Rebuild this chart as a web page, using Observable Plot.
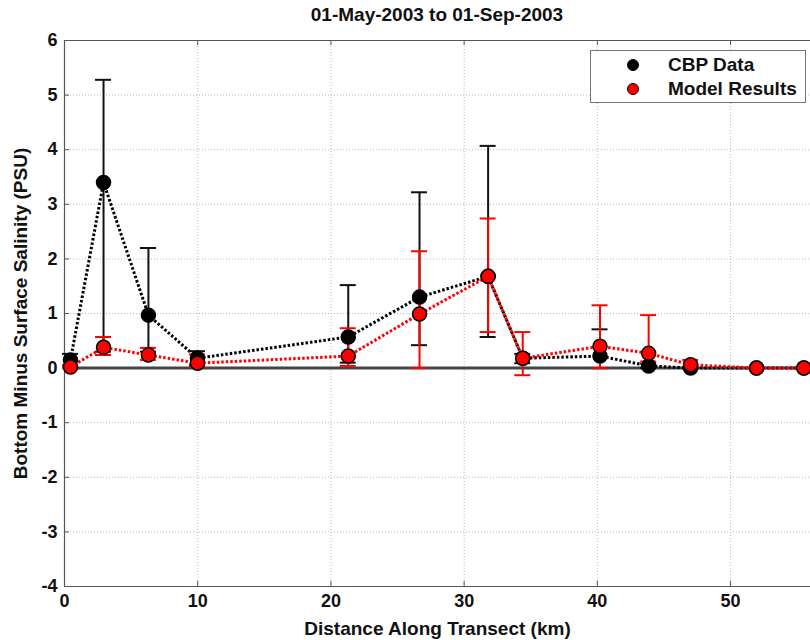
<!DOCTYPE html>
<html>
<head>
<meta charset="utf-8">
<script src="https://cdn.jsdelivr.net/npm/d3@7"></script>
<script src="https://cdn.jsdelivr.net/npm/@observablehq/plot@0.6"></script>
<style>
  html, body { margin: 0; padding: 0; background: #fff; }
  #wrap { position: relative; width: 810px; height: 640px; overflow: hidden; font-family: "Liberation Sans", Arial, sans-serif; }
  #title { position: absolute; left: 64px; width: 746px; top: 0; height: 30px; line-height: 30px; text-align: center; font-weight: bold; font-size: 19px; color: #111; }
  #chart { position: absolute; left: 0; top: 30px; }
  #legend { position: absolute; left: 590px; top: 50px; width: 216px; height: 53px; border: 1px solid #777; background: #fff; box-sizing: border-box; font-weight: bold; font-size: 19px; color: #111; }
  .row { position: absolute; left: 0; height: 22px; line-height: 22px; }
  .sw { position: absolute; left: 36px; top: 5px; width: 12px; height: 12px; border-radius: 50%; border: 1px solid #000; box-sizing: border-box; }
  .lab { position: absolute; left: 77px; white-space: nowrap; }
</style>
</head>
<body>
<div id="wrap">
  <div id="title">01-May-2003 to 01-Sep-2003</div>
  <div id="chart"></div>
  <div id="legend">
    <div class="row" style="top:3px"><span class="sw" style="background:#000"></span><span class="lab">CBP Data</span></div>
    <div class="row" style="top:27px"><span class="sw" style="background:#f00"></span><span class="lab">Model Results</span></div>
  </div>
</div>
<script>
const xTicks = [0, 10, 20, 30, 40, 50];
const yTicks = [-4, -3, -2, -1, 0, 1, 2, 3, 4, 5, 6];

const stations  = [0.45, 2.93, 6.3, 9.98, 21.3, 26.65, 31.8, 34.4, 40.2, 43.85, 47.0, 51.95, 55.5];
const cbpMean   = [0.15, 3.40, 0.97, 0.18, 0.57, 1.30, 1.68, 0.18, 0.22, 0.04, 0.00, 0.00, 0.00];
const cbpLow    = [0.05, 0.30, 0.30, 0.06, 0.10, 0.42, 0.57, 0.09, 0.00, 0.00, 0.00, 0.00, 0.00];
const cbpHigh   = [0.26, 5.28, 2.20, 0.31, 1.52, 3.22, 4.07, 0.26, 0.71, 0.08, 0.02, 0.00, 0.00];
const modelMean = [0.02, 0.38, 0.24, 0.09, 0.22, 0.99, 1.68, 0.18, 0.40, 0.27, 0.06, 0.00, 0.00];
const modelLow  = [0.00, 0.24, 0.15, 0.03, 0.04, 0.00, 0.66, -0.13, 0.00, 0.12, 0.00, 0.00, 0.00];
const modelHigh = [0.05, 0.57, 0.37, 0.25, 0.73, 2.14, 2.74, 0.66, 1.15, 0.97, 0.15, 0.00, 0.00];

const cbp = stations.map((x, i) => ({x, y: cbpMean[i], lo: cbpLow[i], hi: cbpHigh[i]}));
const model = stations.map((x, i) => ({x, y: modelMean[i], lo: modelLow[i], hi: modelHigh[i]}));

const errMarks = (data, color) => [
  Plot.ruleX(data, {x: "x", y1: "lo", y2: "hi", stroke: color, strokeWidth: 2}),
  Plot.ruleY(data, {y: "hi", x1: "x", x2: "x", insetLeft: -8, insetRight: -8, stroke: color, strokeWidth: 2}),
  Plot.ruleY(data, {y: "lo", x1: "x", x2: "x", insetLeft: -8, insetRight: -8, stroke: color, strokeWidth: 2})
];

const chart = Plot.plot({
  width: 810,
  height: 610,
  marginTop: 10,
  marginBottom: 54,
  marginLeft: 64,
  marginRight: 0,
  style: {fontFamily: "'Liberation Sans', Arial, sans-serif", fontSize: "18px", fontWeight: "bold", color: "#111", background: "#fff"},
  x: {domain: [0, 56]},
  y: {domain: [-4, 6]},
  marks: [
    Plot.gridX(xTicks, {stroke: "#bbb", strokeOpacity: 1, strokeDasharray: "1,2"}),
    Plot.gridY(yTicks, {stroke: "#bbb", strokeOpacity: 1, strokeDasharray: "1,2"}),
    Plot.ruleX(xTicks, {x: d => d, y1: -4, y2: -4, insetTop: -5, stroke: "#555"}),
    Plot.ruleX(xTicks, {x: d => d, y1: 6, y2: 6, insetBottom: -5, stroke: "#555"}),
    Plot.ruleY(yTicks, {y: d => d, x1: 0, x2: 0, insetRight: -5, stroke: "#555"}),
    Plot.ruleX([0], {stroke: "#555", strokeWidth: 1.2}),
    Plot.ruleY([-4, 6], {stroke: "#555", strokeWidth: 1.2}),
    Plot.ruleY([0], {stroke: "#444", strokeWidth: 3}),
    ...errMarks(cbp, "#111"),
    ...errMarks(model, "#f00"),
    Plot.line(cbp, {x: "x", y: "y", stroke: "#000", strokeWidth: 3, strokeDasharray: "2.5,2", strokeLinecap: "butt"}),
    Plot.line(model, {x: "x", y: "y", stroke: "#f00", strokeWidth: 3, strokeDasharray: "2.5,2", strokeLinecap: "butt"}),
    Plot.dot(cbp, {x: "x", y: "y", r: 7, fill: "#000", stroke: "#000", strokeWidth: 1.5}),
    Plot.dot(model, {x: "x", y: "y", r: 7, fill: "#f00", stroke: "#000", strokeWidth: 1.5}),
    Plot.axisX({ticks: xTicks, tickSize: 0, tickPadding: 8, tickFormat: d => String(d), label: null}),
    Plot.axisY({ticks: yTicks, tickSize: 0, tickPadding: 7, tickFormat: d => String(d), label: null}),
    Plot.text(["Distance Along Transect (km)"], {frameAnchor: "bottom", dy: 48, fontSize: 19, lineAnchor: "bottom", text: d => d}),
    Plot.text(["Bottom Minus Surface Salinity (PSU)"], {frameAnchor: "left", dx: -44, rotate: -90, textAnchor: "middle", fontSize: 19, text: d => d})
  ]
});
document.getElementById("chart").appendChild(chart);
</script>
</body>
</html>
